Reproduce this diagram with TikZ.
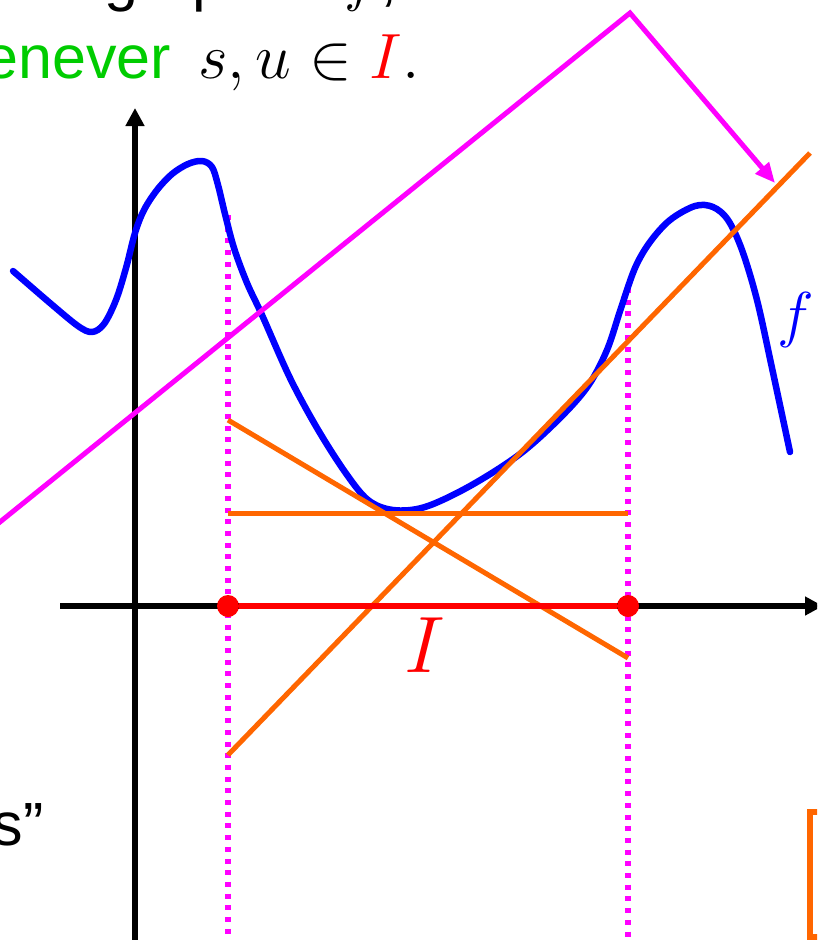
\RequirePackage{fix-cm}
\documentclass[tikz,border=0pt]{standalone}
\usepackage{fontspec}
\newfontfamily\slidefont{Liberation Sans}
\usetikzlibrary{arrows.meta}
\definecolor{fblue}{RGB}{0,0,255}
\definecolor{mag}{RGB}{255,0,255}
\definecolor{org}{RGB}{255,102,0}
\definecolor{sgreen}{RGB}{0,204,0}
\definecolor{ired}{RGB}{255,0,0}
\tikzset{
  axisline/.style={line width=6pt, -{Triangle[length=18pt,width=18pt]}},
  fcurve/.style={fblue, line width=6.5pt, line join=round, line cap=round},
  chord/.style={org, line width=5pt},
  guide/.style={mag, line width=5.5pt, dash pattern=on 5pt off 6.7pt},
  pointer/.style={mag, line width=5pt, line join=miter, -{Triangle[length=20pt,width=17pt]}},
  slidetext/.style={font=\fontsize{61}{72}\selectfont\slidefont, inner sep=0pt},
  mathtext/.style={font=\fontsize{64}{72}\selectfont, inner sep=0pt},
  enddot/.style={circle, fill=ired, minimum size=22pt, inner sep=0pt},
}
\begin{document}
\begin{tikzpicture}[x=1pt,y=-1pt]
\useasboundingbox (0,0) rectangle (817,940);
\clip (0,0) rectangle (817,940);

% texts of the slide
\node[slidetext, anchor=base west] (topline) at (104,-1) {graph of $f$,};
\node[slidetext, anchor=base east, text=sgreen] (whenever) at (171,78) {enever};
\node[mathtext, anchor=base west] (cond) at (198,78) {$s,u\in{\color{ired}I}.$};
\node[slidetext, anchor=base east] (quote) at (44,845) {s”};

% axes
\coordinate (xs) at (60,606);
\coordinate (xe) at (823,606);
\coordinate (ys) at (135,945);
\coordinate (ye) at (135,108);
\draw[axisline] (xs) -- (xe);
\draw[axisline] (ys) -- (ye);

% dotted guides
\coordinate (Ltop) at (228,215);
\coordinate (Lbot) at (228,945);
\coordinate (Rtop) at (628,288);
\coordinate (Rbot) at (628,945);
\draw[guide] (Ltop) -- (Lbot);
\draw[guide] (Rtop) -- (Rbot);

% the function f
\draw[fcurve] plot[smooth, tension=0.55] coordinates {
 (13,271) (50,303) (78,326) (92,332) (104,324) (116,300) (126,268) (135,233)
 (144,210) (157,190) (172,174) (188,164) (202,161) (212,167) (218,185) (225,214)
 (234,248) (247,283) (262,315) (290,378) (317,428) (345,472) (368,500) (393,510)
 (425,507) (470,486) (520,454) (560,418) (588,386) (607,350) (621,308) (635,268)
 (650,242) (670,220) (695,206) (713,207) (728,220) (742,250) (757,300) (772,368)
 (790,452)};
\node[mathtext, anchor=base, text=fblue, font=\fontsize{62}{72}\selectfont] (flab) at (796,335) {$f$};

% orange lines
\coordinate (t1a) at (228,755);
\coordinate (t1b) at (810,153);
\coordinate (t2a) at (228,513);
\coordinate (t2b) at (628,513);
\coordinate (t3a) at (228,420);
\coordinate (t3b) at (628,658);
\draw[chord] (t1a) -- (t1b);
\draw[chord] (t2a) -- (t2b);
\draw[chord] (t3a) -- (t3b);

% magenta pointer
\coordinate (m0) at (-5,526);
\coordinate (m1) at (630,13);
\coordinate (m2) at (775,183);
\draw[pointer] (m0) -- (m1) -- (m2);

% interval I
\node[enddot] (pL) at (228,606) {};
\node[enddot] (pR) at (628,606) {};
\draw[ired, line width=5.5pt] (pL) -- (pR);
\node[anchor=base, text=ired, inner sep=0pt, font=\fontsize{80}{90}\selectfont] (Ilab) at (425,672) {$I$};

% orange box corner
\draw[org, line width=6pt] (810,812) rectangle (870,937);
\end{tikzpicture}
\end{document}
